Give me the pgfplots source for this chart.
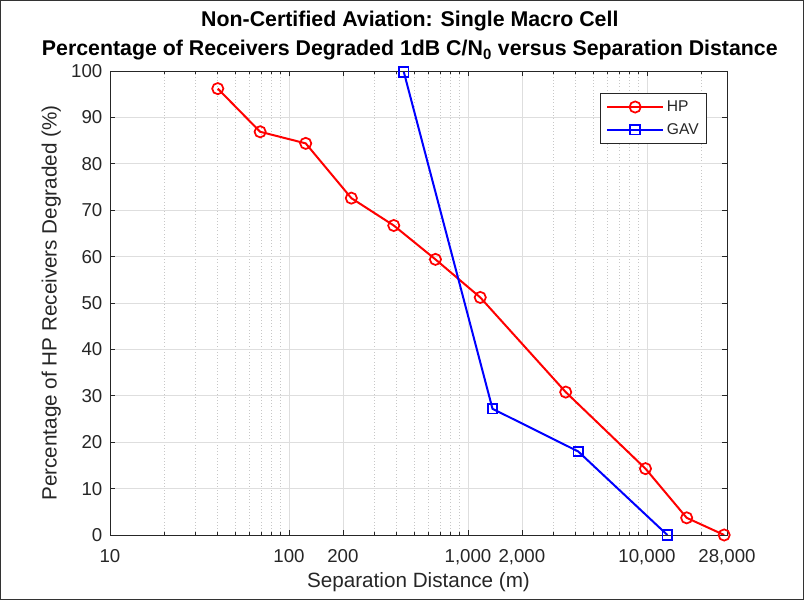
\documentclass[border=0pt]{standalone}
\usepackage{fontspec}
\setmainfont{Liberation Sans}
\usepackage{pgfplots}
\pgfplotsset{compat=1.18}
\definecolor{axgray}{gray}{0.15}
\definecolor{mred}{rgb}{1,0,0}
\definecolor{mblue}{rgb}{0,0,1}
\begin{document}
\begin{tikzpicture}
\path[use as bounding box] (-82.5pt,-48.75pt) rectangle (520.5pt,401.25pt);
\draw[black!80, line width=0.8pt] (-82.1pt,-48.35pt) rectangle (520.1pt,400.85pt);
\begin{axis}[at={(0pt,0pt)}, anchor=south west, scale only axis,
  width=462.75pt, height=348pt,
  xmode=log, xmin=10, xmax=28000, ymin=0, ymax=100,
  xtick={10,100,200,1000,2000,10000,28000},
  xticklabels={10,100,200,{1,000},{2,000},{10,000},{28,000}},
  minor xtick={20,30,40,50,60,70,80,90,300,400,500,600,700,800,900,3000,4000,5000,6000,7000,8000,9000,20000},
  ytick={0,10,...,100},
  /pgf/number format/assume math mode=true,
  tick label style={font=\fontsize{14}{16}\selectfont, color=axgray},
  xticklabel style={anchor=base, yshift=-21pt},
  yticklabel style={anchor=east, xshift=-2.2pt},
  axis line style={color=axgray, line width=0.6pt},
  tick style={color=axgray, line width=0.5pt},
  major tick length=4pt, minor tick length=2.5pt,
  tick align=inside, tick pos=both,
  xmajorgrids, ymajorgrids, xminorgrids,
  major grid style={color=black!13, line width=0.5pt},
  minor grid style={color=black!22, dotted, line width=0.5pt},
  xlabel={Separation Distance (m)},
  ylabel={Percentage of HP Receivers Degraded (\%)},
  label style={font=\fontsize{15.5}{18}\selectfont, color=axgray},
  xlabel style={at={(axis description cs:0.5,0)}, anchor=center, yshift=-35pt},
  ylabel style={at={(axis description cs:0,0.5)}, anchor=center, rotate=0, yshift=44pt},
  title={Non-Certified Aviation: Single Macro Cell\\Percentage of Receivers Degraded 1dB C/N\textsubscript{0} versus Separation Distance},
  title style={align=center, font=\bfseries\fontsize{16}{21.75}\selectfont, at={(0.486,1)}, anchor=south, inner sep=0pt, yshift=1.9pt},
  legend style={at={(0.9676,0.9526)}, anchor=north east, draw=axgray, line width=0.5pt,
    font=\fontsize{11.7}{13}\selectfont, text=axgray, row sep=3.5pt, inner xsep=4pt, inner ysep=3.5pt},
  legend cell align=left,
  legend image code/.code={\draw[mark repeat=2,mark phase=2] plot coordinates {(0cm,0cm)(0.74cm,0cm)(1.48cm,0cm)};},
]
\addplot[mred, line width=1.5pt, mark=o, mark size=4.2pt, mark options={line width=1.3pt}] coordinates {
(40,96.2)(69,86.9)(124,84.4)(223,72.6)(385,66.7)(658,59.4)(1171,51.2)(3516,30.8)(9810,14.3)(16670,3.7)(27000,0)};
\addlegendentry{HP}
\addplot[mblue, line width=1.5pt, mark=square, mark size=3.6pt, mark options={line width=1.3pt}] coordinates {
(438,99.8)(1371,27.2)(4130,18.0)(13000,0)};
\addlegendentry{GAV}
\end{axis}
\end{tikzpicture}
\end{document}
